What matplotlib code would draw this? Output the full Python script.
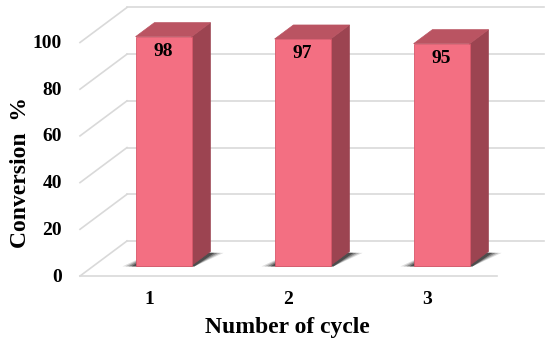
import numpy as np
import matplotlib
matplotlib.use("Agg")
import matplotlib.pyplot as plt
from matplotlib.patches import Polygon

# ---- data ----
cycles = ["1", "2", "3"]
conversion = [98, 97, 95]
y_ticks = [0, 20, 40, 60, 80, 100]

# ---- style ----
FRONT = "#F36F82"
SIDE = "#9C4451"
TOP = "#BA5462"
GRID = "#D9D9D9"
FONT = "Liberation Serif"

# depth of the fake 3d box, in data units (x: categories, y: value)
DX, DY = 0.338, 15.0
BAR_W = 0.403
D0, D1 = 0.3, 0.7  # bar sits between these depth fractions

fig = plt.figure(figsize=(5.5, 3.47), dpi=100)
ax = fig.add_axes([0, 0, 1, 1])
ax.set_xlim(-1.0755, 2.881)
ax.set_ylim(-30.4, 118.2)
ax.axis("off")

n = len(cycles)
x_left, x_right = -0.5, n - 0.5

# back wall gridlines + left wall diagonals
for v in y_ticks:
    ax.plot([x_left + DX, x_right + DX], [v + DY, v + DY], color=GRID, lw=1.2, zorder=1)
    ax.plot([x_left, x_left + DX], [v, v + DY], color=GRID, lw=1.2, zorder=1)
    ax.annotate(str(v), (x_left, v), xytext=(-18, -1), textcoords="offset pixels",
                ha="right", va="center", fontsize=14, fontweight="bold", family=FONT)
# front floor edge
ax.plot([x_left, x_right], [0, 0], color=GRID, lw=1.2, zorder=1)

for i, (lab, val) in enumerate(zip(cycles, conversion)):
    x0 = i - BAR_W / 2 + D0 * DX
    x1 = x0 + BAR_W
    yb = D0 * DY
    yt = yb + val
    ddx, ddy = (D1 - D0) * DX, (D1 - D0) * DY

    # soft shadow on the floor
    for k, a in enumerate([0.14, 0.22, 0.32, 0.5]):
        grow = 0.095 - k * 0.022
        shadow = Polygon([(x0 - grow, yb - 0.4), (x1 + 0.02, yb - 0.4),
                          (x1 + ddx + grow, yb + ddy - 0.6), (x0 + ddx, yb + ddy)],
                         closed=True, facecolor="#1a1a1a", edgecolor="none", alpha=a, zorder=2)
        ax.add_patch(shadow)

    ax.add_patch(Polygon([(x1, yb), (x1 + ddx, yb + ddy), (x1 + ddx, yt + ddy), (x1, yt)],
                         closed=True, facecolor=SIDE, edgecolor=SIDE, lw=0.5, zorder=3))
    ax.add_patch(Polygon([(x0, yt), (x1, yt), (x1 + ddx, yt + ddy), (x0 + ddx, yt + ddy)],
                         closed=True, facecolor=TOP, edgecolor=TOP, lw=0.5, zorder=3))
    ax.add_patch(Polygon([(x0, yb), (x1, yb), (x1, yt), (x0, yt)],
                         closed=True, facecolor=FRONT, edgecolor="#D8586B", lw=0.6, zorder=4))

    ax.annotate(str(val), ((x0 + x1) / 2, yt), xytext=(0, -15), textcoords="offset pixels",
                ha="center", va="center", fontsize=14, fontweight="bold", family=FONT, zorder=5)
    ax.annotate(lab, (i, 0), xytext=(0, -23), textcoords="offset pixels",
                ha="center", va="center", fontsize=14, fontweight="bold", family=FONT)

fig.text(21 / 550, 1 - 172 / 347, "Conversion  %", rotation=90, ha="center", va="center",
         fontsize=17, fontweight="bold", family=FONT)
fig.text(287 / 550, 1 - 328 / 347, "Number of cycle", ha="center", va="center",
         fontsize=17, fontweight="bold", family=FONT)

fig.savefig("out.png", dpi=100)
